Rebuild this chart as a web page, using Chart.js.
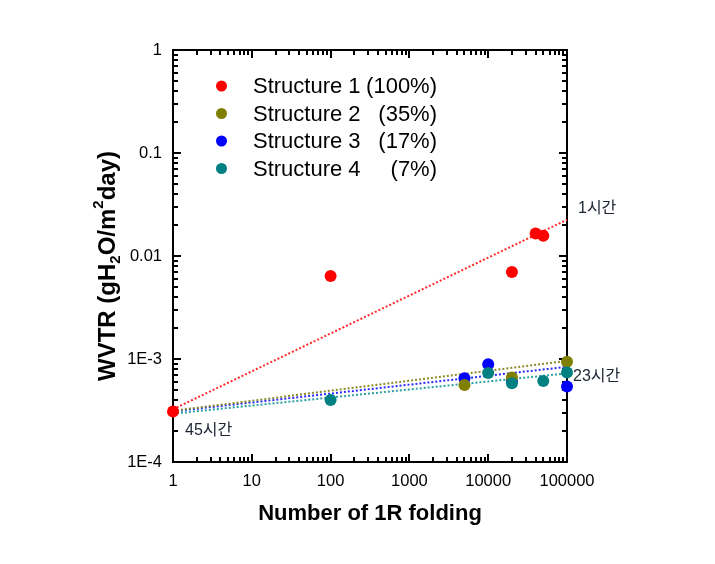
<!DOCTYPE html>
<html>
<head>
<meta charset="utf-8">
<script src="https://cdn.jsdelivr.net/npm/chart.js@4.4.1/dist/chart.umd.min.js"></script>
<style>
html,body{margin:0;padding:0;background:#fff;}
#wrap{width:715px;height:564px;position:relative;}
</style>
</head>
<body>
<div id="wrap"><canvas id="c" width="715" height="564"></canvas></div>
<script>
// ---- data ----
const seriesNames = ['Structure 1', 'Structure 2', 'Structure 3', 'Structure 4'];
const seriesShares = ['(100%)', '(35%)', '(17%)', '(7%)'];
const s1x = [1, 100, 20000, 40000, 50000];
const s1y = [3.1e-4, 6.4e-3, 7.0e-3, 1.65e-2, 1.57e-2];
const s2x = [5000, 20000, 100000];
const s2y = [5.6e-4, 6.6e-4, 9.4e-4];
const s3x = [5000, 10000, 20000, 100000];
const s3y = [6.5e-4, 8.9e-4, 6.1e-4, 5.4e-4];
const s4x = [100, 10000, 20000, 50000, 100000];
const s4y = [4.0e-4, 7.3e-4, 5.8e-4, 6.1e-4, 7.4e-4];
const trendX = [1, 100000];
const trend1 = [3.25e-4, 2.25e-2];
const trend2 = [3.15e-4, 9.6e-4];
const trend3 = [3.1e-4, 8.4e-4];
const trend4 = [2.95e-4, 7.25e-4];
const xTickValues = [1, 10, 100, 1000, 10000, 100000];
const xTickLabels = ['1', '10', '100', '1000', '10000', '100000'];
const yTickValues = [1e-4, 1e-3, 1e-2, 1e-1, 1];
const yTickLabels = ['1E-4', '1E-3', '0.01', '0.1', '1'];
const notes = ['1시간', '23시간', '45시간'];

const pointColors = ['#ff0000', '#808000', '#0000ff', '#008080'];
const lineColors = ['#ff2a2a', '#8c8c2a', '#2a2aff', '#2aa0a0'];

const zip = (xs, ys) => xs.map((x, i) => ({x: x, y: ys[i]}));
const pts = [zip(s1x, s1y), zip(s2x, s2y), zip(s3x, s3y), zip(s4x, s4y)];
const trends = [trend1, trend2, trend3, trend4].map(t => zip(trendX, t));
const pointOrder = [4, 2, 3, 1];

const datasets = [];
for (let i = 0; i < 4; i++) {
  datasets.push({
    label: seriesNames[i] + ' fit', data: trends[i], showLine: true,
    borderColor: lineColors[i], borderWidth: 2, borderDash: [2, 2],
    pointRadius: 0, fill: false, order: 10 + i, clip: false
  });
}
for (let i = 0; i < 4; i++) {
  datasets.push({
    label: seriesNames[i], data: pts[i], showLine: false,
    backgroundColor: pointColors[i], borderColor: pointColors[i],
    pointRadius: 6, pointBorderWidth: 0, order: pointOrder[i], clip: false
  });
}

const FONT = '"Liberation Sans", Arial, sans-serif';

const framePlugin = {
  id: 'frame',
  beforeDatasetsDraw(chart) {
    const {ctx, chartArea: a, scales: {x, y}} = chart;
    ctx.save();
    ctx.strokeStyle = '#000';
    ctx.lineWidth = 2;
    ctx.strokeRect(a.left, a.top, a.right - a.left, a.bottom - a.top);
    ctx.lineWidth = 2;
    ctx.beginPath();
    for (let d = 0; d <= 5; d++) {
      for (let m = 1; m <= 9; m++) {
        const v = Math.pow(10, d) * m;
        if (v > 100000) continue;
        const px = Math.round(x.getPixelForValue(v));
        const len = m === 1 ? 8 : 5;
        ctx.moveTo(px, a.bottom); ctx.lineTo(px, a.bottom - len);
        ctx.moveTo(px, a.top); ctx.lineTo(px, a.top + len);
      }
    }
    for (let d = -4; d <= 0; d++) {
      for (let m = 1; m <= 9; m++) {
        const v = Math.pow(10, d) * m;
        if (v > 1.0001) continue;
        const py = Math.round(y.getPixelForValue(v));
        const len = m === 1 ? 8 : 5;
        ctx.moveTo(a.left, py); ctx.lineTo(a.left + len, py);
        ctx.moveTo(a.right, py); ctx.lineTo(a.right - len, py);
      }
    }
    ctx.stroke();
    ctx.restore();
  },
  afterDraw(chart) {
    const {ctx, chartArea: a, scales: {x, y}} = chart;
    ctx.save();
    // legend
    const rows = [86, 113.5, 141, 168.5];
    ctx.textBaseline = 'middle';
    ctx.font = '22px ' + FONT;
    for (let i = 0; i < 4; i++) {
      ctx.fillStyle = pointColors[i];
      ctx.beginPath(); ctx.arc(221.5, rows[i], 5.5, 0, Math.PI * 2); ctx.fill();
      ctx.fillStyle = '#000';
      ctx.textAlign = 'left';
      ctx.fillText(seriesNames[i], 253, rows[i] + 1);
      ctx.textAlign = 'right';
      ctx.fillText(seriesShares[i], 437, rows[i] + 1);
    }
    // x title
    ctx.font = 'bold 22px ' + FONT;
    ctx.textAlign = 'center';
    ctx.fillStyle = '#000';
    ctx.fillText('Number of 1R folding', (a.left + a.right) / 2, 514);
    // y title with sub/sup
    const segs = [
      {t: 'WVTR (gH', s: 24, dy: 0},
      {t: '2', s: 15, dy: 8},
      {t: 'O/m', s: 24, dy: 0},
      {t: '2', s: 15, dy: -9},
      {t: 'day)', s: 24, dy: 0}
    ];
    let total = 0;
    segs.forEach(g => { ctx.font = 'bold ' + g.s + 'px ' + FONT; g.w = ctx.measureText(g.t).width; total += g.w; });
    ctx.translate(108, 266);
    ctx.rotate(-Math.PI / 2);
    ctx.textAlign = 'left';
    let cx = -total / 2;
    segs.forEach(g => {
      ctx.font = 'bold ' + g.s + 'px ' + FONT;
      ctx.fillText(g.t, cx, g.dy);
      cx += g.w;
    });
    ctx.setTransform(1, 0, 0, 1, 0, 0);
    // annotations
    ctx.font = '16px "Liberation Sans", "Noto Sans CJK KR", sans-serif';
    ctx.fillStyle = '#1e2535';
    ctx.textAlign = 'left';
    ctx.textBaseline = 'middle';
    ctx.fillText(notes[0], x.getPixelForValue(100000) + 11, y.getPixelForValue(0.029));
    ctx.fillText(notes[1], x.getPixelForValue(100000) + 6, y.getPixelForValue(6.8e-4));
    ctx.fillText(notes[2], x.getPixelForValue(1) + 12, y.getPixelForValue(2.0e-4));
    ctx.restore();
  }
};

new Chart(document.getElementById('c'), {
  type: 'scatter',
  data: {datasets: datasets},
  options: {
    responsive: false,
    animation: false,
    devicePixelRatio: 1,
    layout: {padding: {left: 0, top: 50, right: 148, bottom: 0}},
    plugins: {legend: {display: false}, tooltip: {enabled: false}, title: {display: false}},
    scales: {
      x: {
        type: 'logarithmic', min: 1, max: 100000,
        grid: {display: false, drawTicks: false},
        border: {display: false},
        afterFit(s) { s.height = 102; },
        afterBuildTicks(s) { s.ticks = xTickValues.map(v => ({value: v})); },
        ticks: {
          autoSkip: false, maxRotation: 0, padding: 10, color: '#000',
          font: {family: FONT, size: 16.5},
          callback: (v) => { const i = xTickValues.indexOf(v); return i >= 0 ? xTickLabels[i] : ''; }
        }
      },
      y: {
        type: 'logarithmic', min: 1e-4, max: 1,
        grid: {display: false, drawTicks: false},
        border: {display: false},
        afterFit(s) { s.width = 173; },
        afterBuildTicks(s) { s.ticks = yTickValues.map(v => ({value: v})); },
        ticks: {
          autoSkip: false, padding: 11, color: '#000',
          font: {family: FONT, size: 16.5},
          callback: (v) => { const i = yTickValues.findIndex(t => Math.abs(t - v) / t < 1e-6); return i >= 0 ? yTickLabels[i] : ''; }
        }
      }
    }
  },
  plugins: [framePlugin]
});
</script>
</body>
</html>
